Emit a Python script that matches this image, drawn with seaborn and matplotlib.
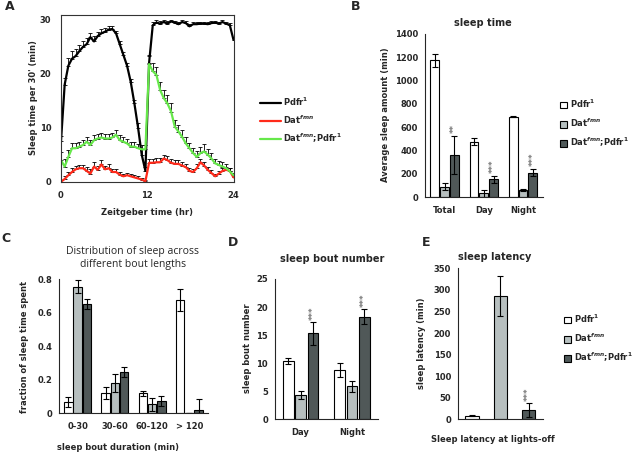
#!/usr/bin/env python3
"""
Sleep phenotype figure: 24 h sleep profile plus bar summaries
(sleep time, bout length distribution, bout number, sleep latency).
"""
import numpy as np
import pandas as pd
import matplotlib
matplotlib.use("Agg")
import matplotlib.pyplot as plt
from matplotlib.patches import Patch
import seaborn as sns

# DATA
GENOTYPES = ["Pdfr$^{1}$", "Dat$^{fmn}$", "Dat$^{fmn}$;Pdfr$^{1}$"]

# panel A: sleep per 30 min bin across the day (48 bins)
zt = np.linspace(0, 24, 48)
sleep_ctrl = [7.5, 18.0, 21.5, 22.8, 23.3, 24.2, 25.0, 25.5, 26.8, 26.0, 27.0, 27.5,
              27.8, 28.2, 28.3, 27.5, 25.5, 23.5, 21.5, 18.5, 14.5, 10.0, 5.0, 2.0,
              22.0, 29.0, 29.5, 29.3, 29.6, 29.3, 29.7, 29.5, 29.2, 29.6, 29.4, 28.8,
              29.2, 29.2, 29.3, 29.3, 29.2, 29.4, 29.5, 29.3, 29.6, 29.3, 29.0, 26.3]
sem_ctrl = [1.0, 1.2, 1.5, 1.5, 1.3, 1.2, 1.0, 1.2, 0.8, 1.0, 0.8, 0.8,
            0.7, 0.6, 0.6, 0.5, 0.6, 0.6, 0.5, 0.6, 0.6, 0.8, 1.0, 0.8,
            1.5, 0.6, 0.4, 0.4, 0.3, 0.4, 0.3, 0.3, 0.4, 0.3, 0.4, 0.5,
            0.4, 0.4, 0.3, 0.3, 0.4, 0.3, 0.3, 0.3, 0.3, 0.3, 0.4, 0.6]
sleep_mut = [0.0, 0.5, 1.2, 1.8, 2.3, 2.5, 2.5, 2.0, 1.5, 2.8, 2.2, 3.2,
             2.3, 2.5, 1.8, 1.8, 1.3, 1.0, 1.2, 1.0, 0.8, 0.6, 0.4, 0.1,
             3.5, 3.5, 3.6, 3.6, 4.3, 4.0, 3.5, 3.3, 3.3, 3.0, 2.7, 2.0,
             1.8, 2.5, 3.6, 3.0, 2.2, 1.6, 1.0, 1.5, 2.0, 2.2, 2.0, 0.8]
sem_mut = [0.3, 0.5, 0.6, 0.7, 0.7, 0.6, 0.6, 0.7, 0.8, 0.8, 0.7, 0.9,
           0.7, 0.7, 0.6, 0.6, 0.5, 0.5, 0.5, 0.5, 0.4, 0.4, 0.3, 0.2,
           0.8, 0.8, 0.8, 0.8, 0.7, 0.8, 0.7, 0.7, 0.7, 0.6, 0.6, 0.5,
           0.6, 0.7, 0.7, 0.6, 0.6, 0.5, 0.5, 0.5, 0.5, 0.5, 0.5, 0.4]
sleep_dbl = [4.0, 2.8, 4.6, 6.2, 6.2, 6.5, 6.8, 7.4, 6.8, 7.7, 8.0, 8.2,
             8.0, 8.0, 8.2, 8.7, 7.7, 7.4, 7.1, 6.5, 6.5, 6.2, 6.0, 6.0,
             21.8, 20.5, 19.8, 17.0, 15.5, 14.5, 13.0, 10.2, 9.3, 8.3, 7.1, 6.2,
             5.3, 4.6, 5.3, 5.6, 5.0, 4.3, 3.4, 3.1, 2.8, 2.5, 1.9, 1.2]
sem_dbl = [1.5, 1.5, 1.3, 1.0, 1.0, 0.9, 0.9, 0.9, 0.9, 0.9, 0.8, 0.9,
           0.9, 0.9, 0.9, 0.9, 0.9, 0.8, 0.8, 0.8, 0.8, 0.8, 0.8, 0.8,
           1.5, 1.5, 1.5, 1.5, 1.5, 1.5, 1.5, 1.3, 1.2, 1.2, 1.2, 1.0,
           1.0, 1.0, 1.2, 1.4, 1.0, 1.0, 0.9, 0.8, 0.8, 0.7, 0.6, 0.5]

# panel B: total / day / night sleep (min)
periods = ["Total", "Day", "Night"]
sleep_time = {GENOTYPES[0]: [1171, 477, 689],
              GENOTYPES[1]: [91, 34, 63],
              GENOTYPES[2]: [363, 154, 209]}
sleep_time_sem = {GENOTYPES[0]: [54, 29, 3],
                  GENOTYPES[1]: [30, 30, 5],
                  GENOTYPES[2]: [160, 29, 31]}
sleep_time_sig = ["**", "***", "***"]

# panel C: fraction of sleep in bouts of each length
bout_bins = ["0-30", "30-60", "60-120", "> 120"]
bout_frac = {GENOTYPES[0]: [0.070, 0.123, 0.119, 0.675],
             GENOTYPES[1]: [0.756, 0.179, 0.054, 0.0],
             GENOTYPES[2]: [0.650, 0.247, 0.074, 0.020]}
bout_frac_sem = {GENOTYPES[0]: [0.030, 0.036, 0.016, 0.066],
                 GENOTYPES[1]: [0.040, 0.054, 0.040, 0.0],
                 GENOTYPES[2]: [0.030, 0.028, 0.032, 0.066]}

# panel D: sleep bout number
day_night = ["Day", "Night"]
bout_num = {GENOTYPES[0]: [10.4, 8.8],
            GENOTYPES[1]: [4.4, 5.9],
            GENOTYPES[2]: [15.3, 18.3]}
bout_num_sem = {GENOTYPES[0]: [0.6, 1.3],
                GENOTYPES[1]: [0.7, 1.0],
                GENOTYPES[2]: [2.0, 1.3]}

# panel E: sleep latency at lights-off (min)
latency = [8.5, 286, 21.6]
latency_sem = [1, 46, 15.5]

LINE_COLORS = ["#000000", "#ff2a1a", "#66e84a"]
BAR_COLORS = ["#ffffff", "#b6c0c0", "#4f5959"]

W, H = 637, 454
BOLD = dict(fontsize=6, fontweight="bold")


def px_axes(fig, left, top, right, bottom):
    return fig.add_axes([left / W, 1 - bottom / H, (right - left) / W, (bottom - top) / H])


def ftext(fig, x, y, s, **kw):
    fig.text(x / W, 1 - y / H, s, **kw)


def long_df(groups, values):
    rows = []
    for g in GENOTYPES:
        for grp, v in zip(groups, values[g]):
            rows.append({"group": grp, "genotype": g, "value": v})
    return pd.DataFrame(rows)


def bar_panel(ax, groups, values, sems, width, gap):
    df = long_df(groups, values)
    sns.barplot(data=df, x="group", y="value", hue="genotype", order=groups,
                hue_order=GENOTYPES, palette=BAR_COLORS, edgecolor="black",
                linewidth=0.8, errorbar=None, width=width, gap=gap,
                legend=False, ax=ax)
    centers = {}
    for g, cont in zip(GENOTYPES, ax.containers):
        xs = [b.get_x() + b.get_width() / 2 for b in cont]
        ys = [b.get_height() for b in cont]
        ax.errorbar(xs, ys, yerr=sems[g], fmt="none", ecolor="black",
                    elinewidth=0.8, capsize=2.5, capthick=0.8)
        centers[g] = xs
    style_bar_axes(ax, len(groups))
    return centers


def style_bar_axes(ax, n):
    sns.despine(ax=ax)
    ax.set_xlabel("")
    ax.set_ylabel("")
    ax.set_xlim(-0.5, n - 0.5)
    ax.tick_params(axis="x", which="major", length=0, pad=6)
    ax.set_xticks(np.arange(-0.5, n, 1.0), minor=True)
    ax.tick_params(axis="x", which="minor", length=3, width=0.8)
    ax.tick_params(axis="y", length=3, width=0.8, pad=2)
    for s in ax.spines.values():
        s.set_linewidth(0.8)


def stars(ax, x, y, s):
    ax.text(x, y, s, rotation=90, ha="center", va="bottom", color="#777777",
            fontsize=6, fontweight="bold")


def main():
    sns.set_style("white")
    plt.rcParams["font.family"] = ["DejaVu Sans"]
    plt.rcParams["font.weight"] = "bold"
    plt.rcParams["xtick.labelsize"] = 6
    plt.rcParams["ytick.labelsize"] = 6
    fig = plt.figure(figsize=(W / 100, H / 100), dpi=100)

    # ---- A: sleep profile
    ax = px_axes(fig, 61, 15, 233.5, 181.7)
    for vals, sem, c, g in zip([sleep_ctrl, sleep_mut, sleep_dbl],
                               [sem_ctrl, sem_mut, sem_dbl], LINE_COLORS, GENOTYPES):
        ax.errorbar(zt, vals, yerr=[np.zeros(len(sem)), sem], fmt="none",
                    ecolor="black", elinewidth=0.6, capsize=1.6, capthick=0.6)
        sns.lineplot(x=zt, y=vals, color=c, lw=1.6, ax=ax, label=g)
    ax.set_xlim(0, 24)
    ax.set_ylim(0, 30.9)
    ax.set_xticks([0, 12, 24])
    ax.set_yticks([0, 10, 20, 30])
    ax.tick_params(length=3, width=0.8, pad=4)
    for s in ax.spines.values():
        s.set_linewidth(0.8)
        s.set_color("#333333")
    ax.legend(loc="upper left", bbox_to_anchor=(252 / W, 1 - 88 / H),
              bbox_transform=fig.transFigure, frameon=False,
              prop={"size": 6, "weight": "bold"}, handlelength=2.6,
              labelspacing=0.7, handletextpad=0.2)
    ftext(fig, 147, 212, "Zeitgeber time (hr)", ha="center", va="center", **BOLD)
    ftext(fig, 33, 98, "Sleep time per 30' (min)", ha="center", va="center",
          rotation=90, **BOLD)

    # ---- B: sleep time
    ax = px_axes(fig, 425, 33.7, 542.7, 197.3)
    c = bar_panel(ax, periods, sleep_time, sleep_time_sem, 0.75, 0.1)
    ax.set_ylim(0, 1400)
    ax.set_yticks(range(0, 1401, 200))
    for i, s in enumerate(sleep_time_sig):
        top = sleep_time[GENOTYPES[2]][i] + sleep_time_sem[GENOTYPES[2]][i]
        stars(ax, c[GENOTYPES[2]][i], top + 25, s)
    ftext(fig, 483, 23, "sleep time", ha="center", va="center", fontsize=7,
          fontweight="bold")
    ftext(fig, 385, 115, "Average sleep amount (min)", ha="center", va="center",
          rotation=90, **BOLD)
    handles = [Patch(facecolor=col, edgecolor="black", linewidth=0.8) for col in BAR_COLORS]
    fig.legend(handles, GENOTYPES, loc="upper left", bbox_to_anchor=(552 / W, 1 - 90 / H),
               frameon=False, prop={"size": 6, "weight": "bold"}, handlelength=0.9,
               handleheight=0.9, labelspacing=0.8, handletextpad=0.4)

    # ---- C: bout length distribution
    ax = px_axes(fig, 59, 279.3, 208, 413.3)
    bar_panel(ax, bout_bins, bout_frac, bout_frac_sem, 0.75, 0.1)
    ax.set_ylim(0, 0.8)
    ax.set_yticks([0, 0.2, 0.4, 0.6, 0.8])
    ax.set_yticklabels(["0", "0.2", "0.4", "0.6", "0.8"])
    ftext(fig, 133, 258, "Distribution of sleep across\ndifferent bout lengths",
          ha="center", va="center", fontsize=7.5, fontweight="normal",
          family="Open Sans", linespacing=1.3)
    ftext(fig, 118, 448, "sleep bout duration (min)", ha="center", va="center", **BOLD)
    ftext(fig, 25, 347, "fraction of sleep time spent", ha="center", va="center",
          rotation=90, **BOLD)

    # ---- D: sleep bout number
    ax = px_axes(fig, 275, 279, 377.7, 419.3)
    c = bar_panel(ax, day_night, bout_num, bout_num_sem, 0.72, 0.15)
    ax.set_ylim(0, 25)
    ax.set_yticks(range(0, 26, 5))
    for i in range(2):
        top = bout_num[GENOTYPES[2]][i] + bout_num_sem[GENOTYPES[2]][i]
        stars(ax, c[GENOTYPES[2]][i], top + 0.4, "***")
    ftext(fig, 332, 259, "sleep bout number", ha="center", va="center", fontsize=7,
          fontweight="bold")
    ftext(fig, 247, 348, "sleep bout number", ha="center", va="center", rotation=90, **BOLD)

    # ---- E: sleep latency
    ax = px_axes(fig, 458, 268.3, 542.7, 419.3)
    df = pd.DataFrame({"genotype": GENOTYPES, "value": latency})
    sns.barplot(data=df, x="genotype", y="value", hue="genotype", order=GENOTYPES,
                hue_order=GENOTYPES, palette=BAR_COLORS, edgecolor="black",
                linewidth=0.8, errorbar=None, width=0.48, legend=False, ax=ax)
    ax.errorbar(range(3), latency, yerr=latency_sem, fmt="none", ecolor="black",
                elinewidth=0.8, capsize=2.5, capthick=0.8)
    style_bar_axes(ax, 3)
    ax.set_xticks([-0.5, 2.5], minor=True)
    ax.set_xticklabels([])
    ax.set_ylim(0, 350)
    ax.set_yticks(range(0, 351, 50))
    stars(ax, 2, latency[2] + latency_sem[2] + 6, "***")
    ftext(fig, 495, 257, "sleep latency", ha="center", va="center", fontsize=7,
          fontweight="bold")
    ftext(fig, 493, 440, "Sleep latency at lights-off", ha="center", va="center", **BOLD)
    ftext(fig, 422, 343, "sleep latency (min)", ha="center", va="center", rotation=90, **BOLD)
    fig.legend(handles, GENOTYPES, loc="upper left", bbox_to_anchor=(556 / W, 1 - 305 / H),
               frameon=False, prop={"size": 6, "weight": "bold"}, handlelength=0.9,
               handleheight=0.9, labelspacing=0.8, handletextpad=0.4)

    # panel letters
    for x, y, s in [(10, 6, "A"), (356, 6, "B"), (6, 239, "C"), (233, 242, "D"), (426, 242, "E")]:
        ftext(fig, x, y, s, ha="center", va="center", fontsize=9, fontweight="bold")

    fig.savefig("out.png", dpi=100)


if __name__ == "__main__":
    main()
